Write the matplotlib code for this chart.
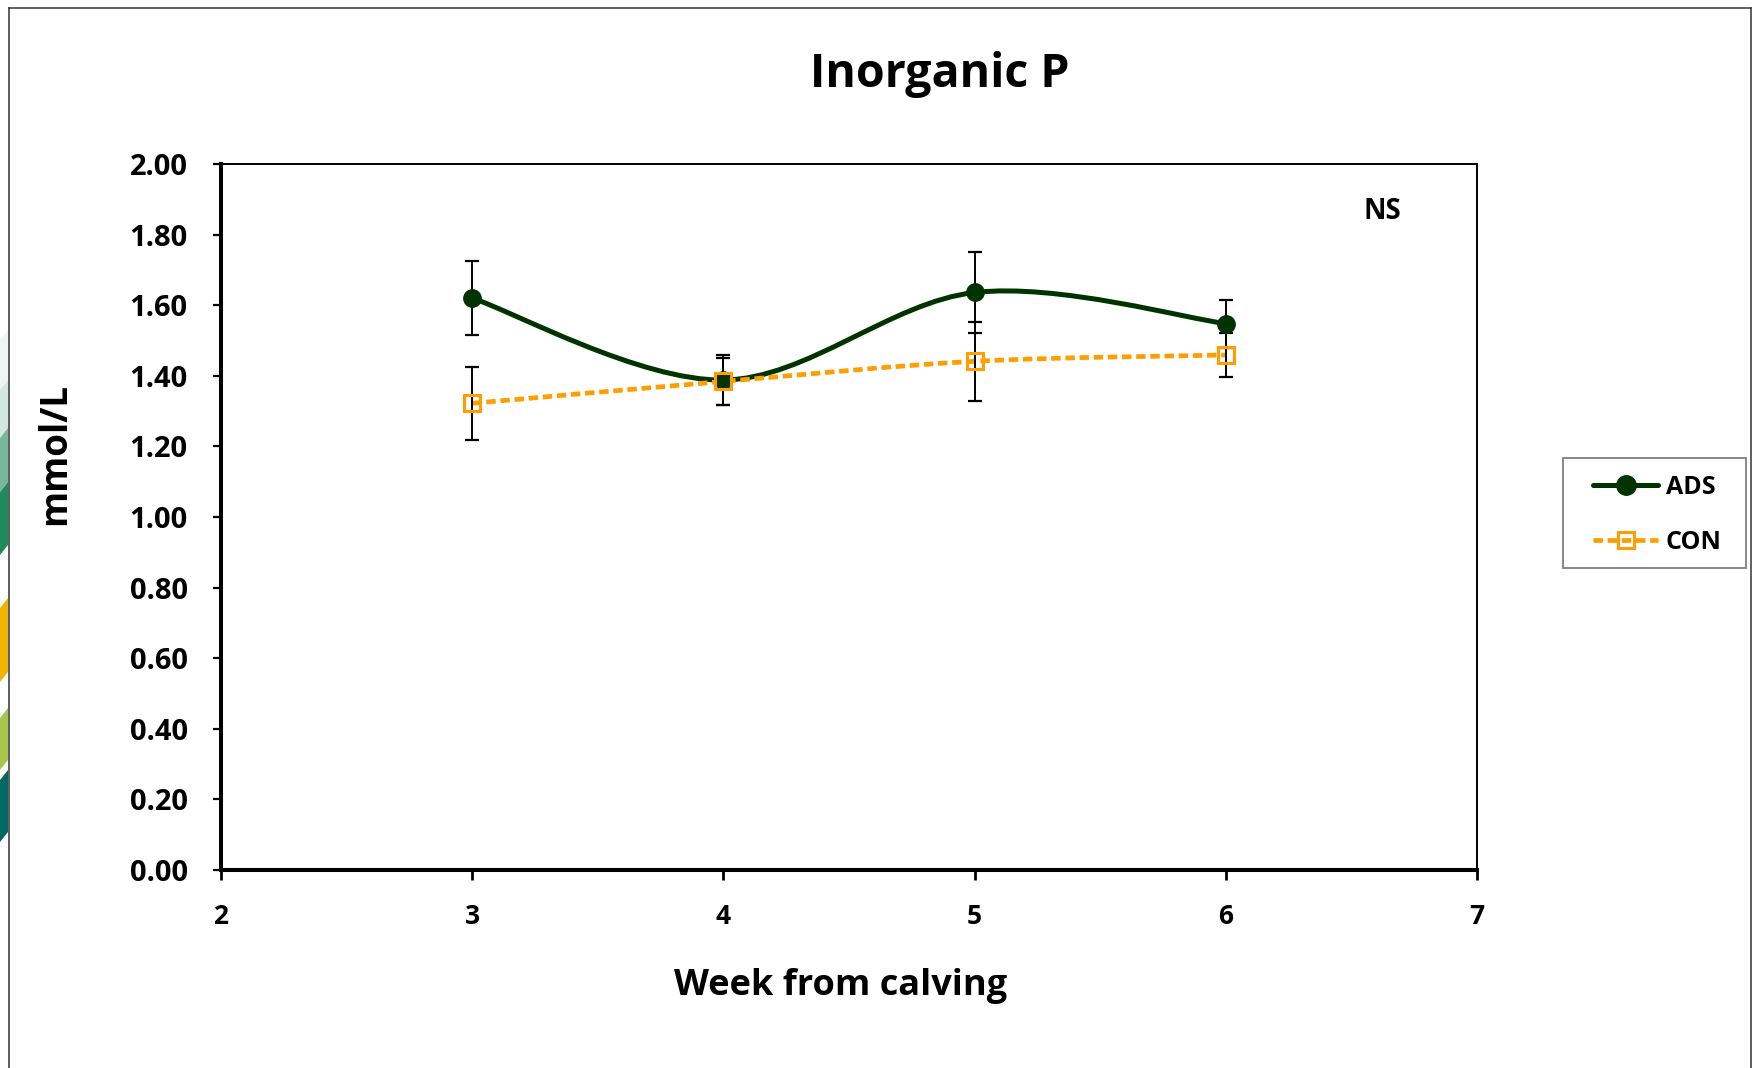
import matplotlib
matplotlib.use("Agg")
import matplotlib.pyplot as plt
from matplotlib.path import Path
from matplotlib.patches import PathPatch, Rectangle, Polygon
from matplotlib.lines import Line2D

# data
weeks = [3, 4, 5, 6]
ads = [1.620, 1.388, 1.636, 1.548]
ads_err = [0.105, 0.070, 0.115, 0.068]
con = [1.322, 1.384, 1.441, 1.459]
con_err = [0.103, 0.067, 0.112, 0.063]
labels = ["ADS", "CON"]

GREEN = "#003300"
ORANGE = "#FF9E00"
W, H = 1754, 1068
DASH = (0, (2.0, 1.0))


def smooth_path(xs, ys):
    # excel-like smoothed line (catmull-rom as bezier segments)
    verts = [(xs[0], ys[0])]
    codes = [Path.MOVETO]
    n = len(xs)
    for i in range(n - 1):
        xa, ya = xs[max(i - 1, 0)], ys[max(i - 1, 0)]
        xb, yb = xs[min(i + 2, n - 1)], ys[min(i + 2, n - 1)]
        c1 = (xs[i] + (xs[i + 1] - xa) / 6, ys[i] + (ys[i + 1] - ya) / 6)
        c2 = (xs[i + 1] - (xb - xs[i]) / 6, ys[i + 1] - (yb - ys[i]) / 6)
        verts += [c1, c2, (xs[i + 1], ys[i + 1])]
        codes += [Path.CURVE4] * 3
    return Path(verts, codes)


fig = plt.figure(figsize=(W / 100, H / 100), dpi=100)
ax = fig.add_axes([221 / W, 1 - 870 / H, (1477 - 221) / W, (870 - 164) / H])

# lines
p1 = PathPatch(smooth_path(weeks, ads), facecolor="none", edgecolor=GREEN, lw=3.6, zorder=2)
ax.add_patch(p1)
p2 = PathPatch(smooth_path(weeks, con), facecolor="none", edgecolor=ORANGE, lw=3.4,
               linestyle=DASH, zorder=2.5)
ax.add_patch(p2)

# error bars
ax.errorbar(weeks, ads, yerr=ads_err, fmt="none", ecolor="black", elinewidth=1.4,
            capsize=5, capthick=1.6, zorder=3)
ax.errorbar(weeks, con, yerr=con_err, fmt="none", ecolor="black", elinewidth=1.4,
            capsize=5, capthick=1.6, zorder=3)

# markers
ax.plot(weeks, ads, linestyle="none", marker="o", ms=12.5, color=GREEN, zorder=4)
ax.plot(weeks, con, linestyle="none", marker="s", ms=11.5, mfc="none", mec=ORANGE,
        mew=2.2, zorder=5)

ax.set_xlim(2, 7)
ax.set_ylim(0, 2)
ax.set_xticks([2, 3, 4, 5, 6, 7])
ax.set_yticks([i * 0.2 for i in range(11)])
ax.set_yticklabels(["%.2f" % (i * 0.2) for i in range(11)],
                   fontfamily="Open Sans", fontweight="bold", fontsize=21)
ax.set_xticklabels(["2", "3", "4", "5", "6", "7"],
                   fontfamily="Open Sans", fontweight="bold", fontsize=19)
ax.tick_params(axis="y", direction="out", length=6, width=1.6, pad=18)
ax.tick_params(axis="x", direction="out", length=7, width=2, pad=17)

for s in ["left", "bottom"]:
    ax.spines[s].set_linewidth(2.9)
for s in ["top", "right"]:
    ax.spines[s].set_linewidth(1.4)

ax.text(0.925, 0.933, "NS", transform=ax.transAxes, ha="center", va="center",
        fontfamily="Open Sans", fontweight="bold", fontsize=20)

fig.text(940 / W, 1 - 74 / H, "Inorganic P", ha="center", va="center",
         fontfamily="Open Sans", fontweight="bold", fontsize=33.5)
fig.text(841 / W, 1 - 986 / H, "Week from calving", ha="center", va="center",
         fontfamily="Open Sans", fontweight="bold", fontsize=26)
fig.text(55 / W, 1 - 454 / H, "mmol/L", ha="center", va="center", rotation=90,
         fontfamily="Open Sans", fontweight="bold", fontsize=26.5)

# legend, box drawn separately
fig.patches.append(Rectangle((1563 / W, 1 - 568 / H), (1746 - 1563) / W, 110 / H,
                             transform=fig.transFigure, facecolor="white",
                             edgecolor="#7f7f7f", lw=1.3, zorder=1))
h1 = Line2D([], [], color=GREEN, lw=3.6, marker="o", ms=14, solid_capstyle="round")
h2 = Line2D([], [], color=ORANGE, lw=3.4, linestyle=DASH, marker="s",
            ms=12, mfc="none", mec=ORANGE, mew=2.2)
leg = fig.legend([h1, h2], labels, loc="upper left",
                 bbox_to_anchor=(1593 / W, 1 - 475 / H), frameon=False,
                 borderpad=0, borderaxespad=0, handlelength=2.6, handletextpad=0.3,
                 labelspacing=1.2, prop={"family": "Open Sans", "weight": "bold", "size": 18})
leg.set_zorder(2)

# outer chart frame
fig.add_artist(Line2D([8.5 / W, 8.5 / W], [-0.01, 1 - 7.5 / H], color="#333333", lw=1.1))
fig.add_artist(Line2D([8.5 / W, 1751 / W], [1 - 7.5 / H, 1 - 7.5 / H], color="#333333", lw=1.1))
fig.add_artist(Line2D([1751 / W, 1751 / W], [-0.01, 1 - 7.5 / H], color="#333333", lw=1.1))

# slanted slide background stripes at the left edge
stripes = [(330, 380, "#eef6f4"), (380, 428, "#d2e7df"), (428, 482, "#78b899"),
           (482, 545, "#1f8a5c"), (598, 672, "#f0b400"), (708, 760, "#a8c64c"),
           (770, 832, "#006a62")]
for y0, y1, c in stripes:
    pts = [(0, 1 - (y0 + 10) / H), (8 / W, 1 - y0 / H), (8 / W, 1 - y1 / H), (0, 1 - (y1 + 10) / H)]
    fig.patches.append(Polygon(pts, closed=True, transform=fig.transFigure,
                               facecolor=c, lw=0))

fig.savefig("out.png", dpi=100)
